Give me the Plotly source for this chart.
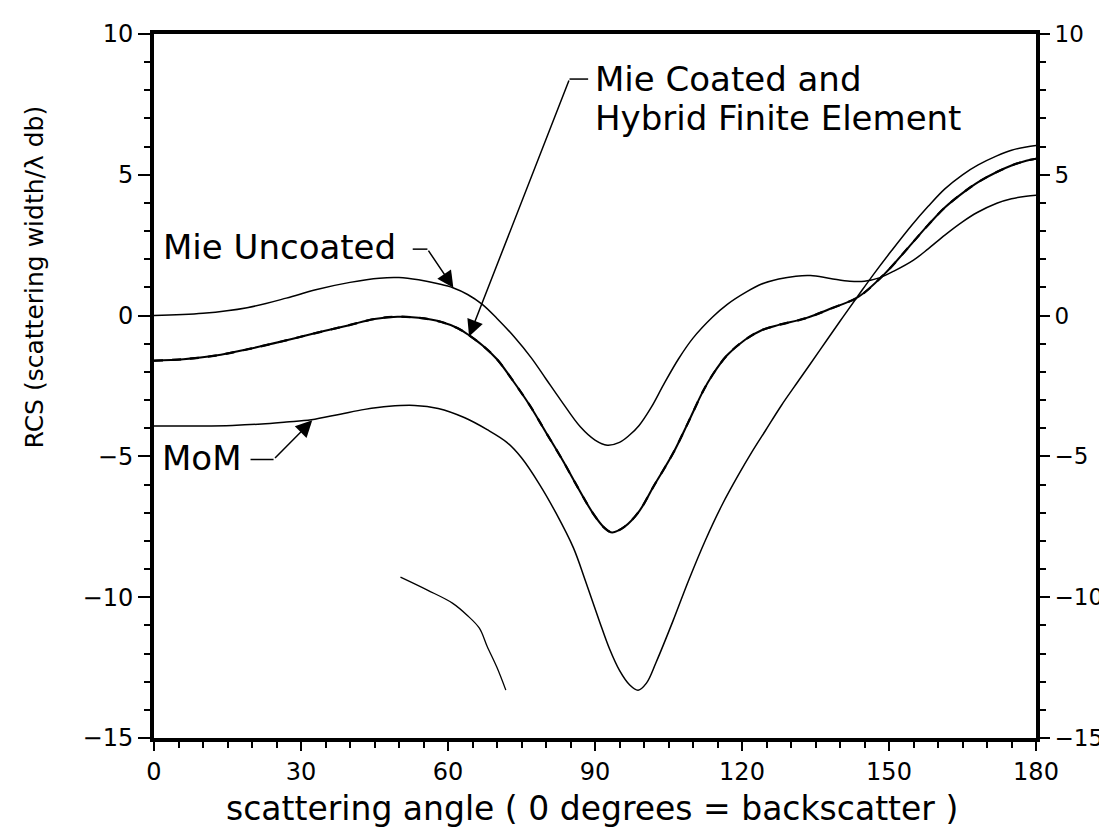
import plotly.graph_objects as go

# ---------------- data ----------------
mie_uncoated_x = [0, 10, 19, 27, 33, 40, 46, 50, 54, 58, 61, 64, 67, 70, 73.5, 77, 80, 83, 87, 90, 92.5, 95, 97,
                  99, 101.5, 104, 107, 110, 114, 117, 121, 124, 127.5, 131, 134, 138, 142, 145, 148, 151, 155,
                  158, 161.4, 165, 168, 172, 175, 178, 180]
mie_uncoated_y = [0.0, 0.08, 0.28, 0.62, 0.92, 1.18, 1.33, 1.35, 1.27, 1.13, 0.99, 0.75, 0.4, -0.1, -0.75, -1.5,
                  -2.25, -3.0, -3.95, -4.42, -4.6, -4.5, -4.25, -3.9, -3.25, -2.45, -1.55, -0.8, -0.05, 0.4, 0.85,
                  1.12, 1.3, 1.4, 1.42, 1.32, 1.22, 1.22, 1.34, 1.58, 1.97, 2.37, 2.86, 3.33, 3.66, 3.99, 4.15,
                  4.24, 4.27]

mie_coated_x = [0, 6, 12.6, 19, 26, 33, 39.6, 45, 49.7, 54, 58.5, 62, 64.3, 67, 70, 73, 76.7, 80, 83.6, 86, 89.7,
                92, 93.5, 96, 99, 102, 105.9, 109, 112, 114, 117, 120.7, 124, 127.5, 132.9, 138.3, 143.8, 149.2,
                154.6, 158, 161.4, 165, 168.2, 172, 175, 178, 180]
mie_coated_y = [-1.6, -1.55, -1.42, -1.2, -0.92, -0.62, -0.35, -0.12, -0.04, -0.08, -0.22, -0.45, -0.7, -1.05,
                -1.55, -2.25, -3.19, -4.15, -5.2, -5.95, -7.05, -7.55, -7.7, -7.5, -6.95, -6.05, -4.9, -3.8, -2.7,
                -2.1, -1.4, -0.85, -0.52, -0.33, -0.1, 0.26, 0.67, 1.5, 2.55, 3.22, 3.84, 4.35, 4.74, 5.1, 5.33,
                5.5, 5.57]

hybrid_fe_x = mie_coated_x
hybrid_fe_y = mie_coated_y

mom_x = [0, 10, 16, 22, 27, 32.1, 38, 43, 48, 53.2, 58, 63.3, 68, 72, 75, 78.7, 82, 85.6, 88, 90.9, 93, 95, 97,
         98.8, 100.5, 102.5, 105.9, 109, 112.6, 116, 119.3, 122, 124.8, 128, 132, 136, 140, 143.8, 147, 150.5,
         154.6, 158, 161.4, 165, 168.2, 172, 175, 178, 180]
mom_y = [-3.92, -3.92, -3.9, -3.85, -3.78, -3.7, -3.5, -3.33, -3.22, -3.19, -3.3, -3.62, -4.05, -4.5, -5.05, -6.0,
         -7.0, -8.25, -9.4, -10.85, -11.85, -12.6, -13.1, -13.3, -13.05, -12.3, -10.85, -9.45, -7.95, -6.7,
         -5.65, -4.85, -4.08, -3.2, -2.2, -1.2, -0.2, 0.73, 1.5, 2.3, 3.2, 3.88, 4.5, 5.0, 5.35, 5.67, 5.87,
         5.99, 6.04]

fragment_x = [50.3, 55.8, 60.9, 63.9, 66.4, 68.0, 70.0, 71.8]
fragment_y = [-9.29, -9.75, -10.21, -10.64, -11.1, -11.75, -12.5, -13.3]

x_ticks = [0, 30, 60, 90, 120, 150, 180]
y_ticks = [-15, -10, -5, 0, 5, 10]

x_title = "scattering angle ( 0 degrees = backscatter )"
y_title = "RCS (scattering width/λ db)"
label_coated_1 = "Mie Coated and"
label_coated_2 = "Hybrid Finite Element"
label_uncoated = "Mie Uncoated"
label_mom = "MoM"

# ---------------- figure ----------------
FONT = "DejaVu Sans"
fig = go.Figure()

line_style = dict(color="black", width=1.5, shape="spline", smoothing=1.0)
fig.add_trace(go.Scatter(x=mie_uncoated_x, y=mie_uncoated_y, mode="lines", line=line_style, name="Mie Uncoated"))
fig.add_trace(go.Scatter(x=mom_x, y=mom_y, mode="lines", line=line_style, name="MoM"))
fig.add_trace(go.Scatter(x=mie_coated_x, y=mie_coated_y, mode="lines",
                         line=dict(color="black", width=2.0, shape="spline", smoothing=1.0), name="Mie Coated"))
fig.add_trace(go.Scatter(x=hybrid_fe_x, y=hybrid_fe_y, mode="lines",
                         line=dict(color="black", width=2.2, dash="dash", shape="spline", smoothing=1.0),
                         name="Hybrid Finite Element"))
fig.add_trace(go.Scatter(x=fragment_x, y=fragment_y, mode="lines", yaxis="y2",
                         line=dict(color="black", width=1.3, shape="spline", smoothing=1.0), name="fragment"))

axis_common = dict(
    showgrid=False, zeroline=False, showline=True, linecolor="black", linewidth=4,
    ticks="outside", tickwidth=2, tickcolor="black",
)
minor_y = dict(dtick=1, ticks="outside", ticklen=6, tickwidth=1.5, tickcolor="black")

fig.update_layout(
    width=1107, height=829,
    margin=dict(l=146, r=77, t=25, b=99),
    paper_bgcolor="white", plot_bgcolor="white",
    showlegend=False,
    xaxis=dict(range=[0, 180], tickvals=x_ticks, mirror=True, ticklen=9,
               tickfont=dict(family=FONT, size=24, color="black"),
               minor=dict(dtick=5, ticks="outside", ticklen=6, tickwidth=1.5, tickcolor="black"),
               **axis_common),
    yaxis=dict(range=[-15, 10], tickvals=y_ticks, mirror=True, ticklen=12,
               tickfont=dict(family=FONT, size=24, color="black"),
               minor=minor_y, **axis_common),
    yaxis2=dict(range=[-15, 10], tickvals=y_ticks, overlaying="y", side="right", ticklen=10,
                tickfont=dict(family=FONT, size=23, color="black"),
                minor=minor_y, **axis_common),
)

ann_font = dict(family=FONT, size=34, color="black")
arrow_style = dict(showarrow=True, arrowhead=2, arrowsize=2.2, arrowwidth=1.5, arrowcolor="black", standoff=0)

annotations = [
    # axis titles
    dict(text=x_title, xref="paper", yref="paper", x=0.497, y=-0.1007, xanchor="center", yanchor="middle",
         showarrow=False, font=dict(family=FONT, size=33, color="black")),
    dict(text=y_title, xref="paper", yref="paper", x=-0.1354, y=0.655, xanchor="center", yanchor="middle",
         textangle=-90, showarrow=False, font=dict(family=FONT, size=25, color="black")),
    # labels
    dict(text=label_coated_1, xref="x", yref="y", x=89.6, y=8.40, xanchor="left", yanchor="middle",
         showarrow=False, font=ann_font),
    dict(text=label_coated_2, xref="x", yref="y", x=89.6, y=7.02, xanchor="left", yanchor="middle",
         showarrow=False, font=ann_font),
    dict(text=label_uncoated, xref="x", yref="y", x=1.4, y=2.45, xanchor="left", yanchor="middle",
         showarrow=False, font=ann_font),
    dict(text=label_mom, xref="x", yref="y", x=1.2, y=-5.07, xanchor="left", yanchor="middle",
         showarrow=False, font=ann_font),
    # arrows
    dict(text="", xref="x", yref="y", axref="x", ayref="y", x=64.3, y=-0.74, ax=84.8, ay=8.40, **arrow_style),
    dict(text="", xref="x", yref="y", axref="x", ayref="y", x=61.1, y=0.99, ax=55.8, ay=2.36, **arrow_style),
    dict(text="", xref="x", yref="y", axref="x", ayref="y", x=32.3, y=-3.72, ax=24.4, ay=-5.11, **arrow_style),
]
fig.update_layout(annotations=annotations)

# short horizontal leader segments
for x0, x1, yv in [(84.8, 88.6, 8.40), (52.8, 55.8, 2.36), (19.7, 24.4, -5.11)]:
    fig.add_shape(type="line", xref="x", yref="y", x0=x0, x1=x1, y0=yv, y1=yv,
                  line=dict(color="black", width=1.5))

fig.write_html("out.html")
